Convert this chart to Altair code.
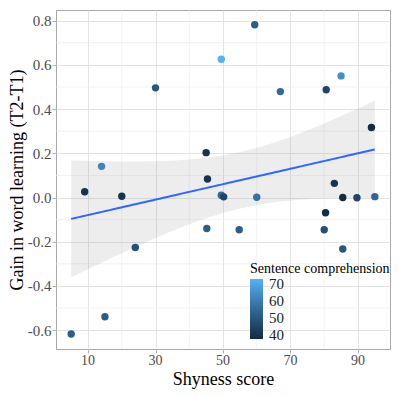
import altair as alt
import numpy as np
import pandas as pd

# Data
shyness = [5, 15, 24, 9, 14, 20, 30, 49.5, 59.4, 67, 80.6, 85, 45, 45.4, 49.5, 50.2,
           60, 45.2, 54.8, 94, 83, 85.5, 89.7, 95, 80.4, 80, 85.5]
gain = [-0.617, -0.539, -0.226, 0.026, 0.141, 0.006, 0.496, 0.625, 0.781, 0.479, 0.487,
        0.55, 0.203, 0.084, 0.010, 0.003, 0.001, -0.140, -0.146, 0.317, 0.064, 0.0,
        -0.001, 0.004, -0.069, -0.146, -0.233]
comprehension = [52, 52, 48, 40, 62, 40, 50, 73.2, 52, 55, 45, 65, 40, 40, 55, 45,
                 57, 52, 52, 38, 40, 37.4, 45, 54, 38, 48, 50]

x_ticks = [10, 30, 50, 70, 90]
x_minor = [20, 40, 60, 80]
y_ticks = [-0.6, -0.4, -0.2, 0.0, 0.2, 0.4, 0.6, 0.8]
y_minor = [-0.5, -0.3, -0.1, 0.1, 0.3, 0.5, 0.7]
legend_values = [40, 50, 60, 70]

df = pd.DataFrame({"Shyness": shyness, "Gain": gain, "Comp": comprehension})

# Linear fit with 95% confidence band (like geom_smooth(method="lm"))
x = np.array(shyness, dtype=float)
y = np.array(gain, dtype=float)
n = len(x)
b1, b0 = np.polyfit(x, y, 1)
xs = np.linspace(x.min(), x.max(), 80)
yhat = b0 + b1 * xs
resid = y - (b0 + b1 * x)
s = np.sqrt(np.sum(resid ** 2) / (n - 2))
sxx = np.sum((x - x.mean()) ** 2)
se = s * np.sqrt(1.0 / n + (xs - x.mean()) ** 2 / sxx)
tval = 2.06
fit = pd.DataFrame({"x": xs, "fit": yhat, "lo": yhat - tval * se, "hi": yhat + tval * se})

FONT = "Liberation Serif"
xscale = alt.Scale(domain=[0.5, 99.5], nice=False, zero=False)
yscale = alt.Scale(domain=[-0.685, 0.848], nice=False, zero=False)

xaxis = alt.Axis(
    values=x_ticks, title="Shyness score", domain=False, labels=False,
    gridColor="#E3E3E3", gridWidth=1, tickColor="#B3B3B3", tickSize=4,
    titleFont=FONT, titleFontSize=18, titleFontWeight="normal", titleColor="#000000",
    titlePadding=17,
)
yaxis = alt.Axis(
    values=y_ticks, title="Gain in word learning (T2-T1)", domain=False,
    labelExpr="replace(format(datum.value, '.1f'), '\u2212', '-')",
    labelOverlap=False,
    gridColor="#E3E3E3", gridWidth=1, tickColor="#B3B3B3", tickSize=4,
    labelFont=FONT, labelFontSize=15, labelColor="#4D4D4D", labelPadding=1,
    titleFont=FONT, titleFontSize=18, titleFontWeight="normal", titleColor="#000000",
    titlePadding=1,
)

minor_x = alt.Chart(pd.DataFrame({"v": x_minor})).mark_rule(
    color="#EDEDED", strokeWidth=0.7
).encode(x=alt.X("v:Q", scale=xscale, axis=xaxis))
minor_y = alt.Chart(pd.DataFrame({"v": y_minor})).mark_rule(
    color="#EDEDED", strokeWidth=0.7
).encode(y=alt.Y("v:Q", scale=yscale, axis=yaxis))

# x tick labels drawn as text below the panel
xlabels = alt.Chart(pd.DataFrame({"v": x_ticks})).mark_text(
    font=FONT, fontSize=14, color="#4D4D4D", baseline="top", align="center"
).encode(
    x=alt.X("v:Q", scale=xscale, axis=xaxis),
    y=alt.value({"expr": "height + 5"}),
    text=alt.Text("v:Q", format="d"),
)

band = alt.Chart(fit).mark_area(color="#999999", opacity=0.18).encode(
    x=alt.X("x:Q", scale=xscale, axis=xaxis),
    y=alt.Y("lo:Q", scale=yscale, axis=yaxis),
    y2="hi:Q",
)
line = alt.Chart(fit).mark_line(color="#3366FF", strokeWidth=2).encode(
    x=alt.X("x:Q", scale=xscale, axis=xaxis),
    y=alt.Y("fit:Q", scale=yscale, axis=yaxis),
)
points = alt.Chart(df).mark_circle(size=55, opacity=1).encode(
    x=alt.X("Shyness:Q", scale=xscale, axis=xaxis),
    y=alt.Y("Gain:Q", scale=yscale, axis=yaxis),
    color=alt.Color(
        "Comp:Q",
        scale=alt.Scale(range=["#132B43", "#56B1F7"], interpolate="lab",
                        domain=[min(comprehension), max(comprehension)], nice=False, zero=False),
        legend=alt.Legend(
            title="Sentence comprehension", orient="none", legendX=192, legendY=250,
            values=legend_values, direction="vertical",
            gradientLength=60, gradientThickness=13, gradientStrokeWidth=0,
            titleFont=FONT, titleFontSize=14, titleFontWeight="normal", titleColor="#000000",
            titlePadding=3, labelFont=FONT, labelFontSize=15, labelColor="#222222",
            labelOffset=6, labelOverlap=False, padding=2,
        ),
    ),
)

chart = alt.layer(minor_x, minor_y, band, line, points, xlabels).properties(
    width=384, height=381,
    autosize=alt.AutoSizeParams(type="fit", contains="padding"),
    padding={"left": 0, "top": 1, "right": 1, "bottom": 0},
).configure(font=FONT).configure_view(stroke="#A8A8A8", strokeWidth=1)

chart.save("out.html", embed_options={"renderer": "svg", "actions": False})
